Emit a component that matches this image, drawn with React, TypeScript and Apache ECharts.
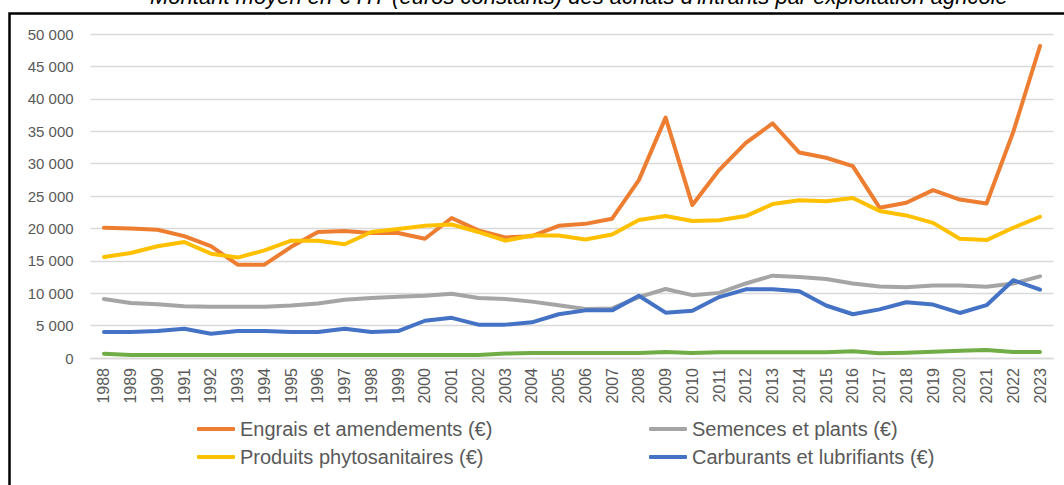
import React, { useEffect, useRef } from "react";
import * as echarts from "echarts";

const years = ["1988","1989","1990","1991","1992","1993","1994","1995","1996","1997","1998","1999","2000","2001","2002","2003","2004","2005","2006","2007","2008","2009","2010","2011","2012","2013","2014","2015","2016","2017","2018","2019","2020","2021","2022","2023"];

const engrais = [20100,20000,19800,18800,17250,14400,14400,17150,19450,19600,19300,19300,18400,21600,19700,18600,18800,20400,20700,21500,27450,37100,23600,29000,33200,36200,31700,30900,29600,23200,23950,25900,24450,23850,34900,48150];
const semences = [9100,8500,8300,8000,7900,7900,7900,8100,8400,9000,9250,9450,9600,9900,9250,9100,8700,8150,7550,7650,9400,10650,9700,10050,11500,12700,12500,12200,11500,11050,10900,11200,11200,11000,11500,12600];
const phyto = [15600,16200,17250,17900,16100,15500,16600,18100,18100,17550,19450,19900,20400,20600,19450,18100,18900,18900,18300,19050,21300,21900,21150,21250,21900,23750,24350,24200,24700,22700,22000,20850,18400,18200,20100,21800];
const carburants = [4000,4000,4150,4500,3750,4150,4150,4000,4000,4500,4000,4150,5750,6200,5150,5150,5500,6750,7350,7350,9600,7000,7300,9400,10600,10600,10300,8100,6750,7500,8600,8250,6950,8150,12000,10550];
const autres = [670,480,480,480,480,480,480,480,480,480,480,480,480,480,480,700,770,770,770,770,770,930,770,870,870,870,870,870,1030,720,820,980,1130,1240,930,930];

const seriesNames = [
  "Engrais et amendements (€)",
  "Semences et plants (€)",
  "Produits phytosanitaires (€)",
  "Carburants et lubrifiants (€)",
  "Autres intrants (€)",
];
const colors = ["#ED7D31", "#A5A5A5", "#FFC000", "#4472C4", "#70AD47"];
const titleText = "Montant moyen en € HT (euros constants) des achats d'intrants par exploitation agricole";

export default function App() {
  const ref = useRef<HTMLDivElement>(null);
  useEffect(() => {
    if (!ref.current) return;
    const chart = echarts.init(ref.current, null, { renderer: "svg" });
    const data = [engrais, semences, phyto, carburants, autres];
    const legendFont = { fontFamily: "Liberation Sans, Arial, sans-serif", fontSize: 20, color: "#595959", lineHeight: 24 };
    const legendPos = [
      { left: 197, top: 417 },
      { left: 649, top: 417 },
      { left: 197, top: 445 },
      { left: 649, top: 445 },
    ];
    chart.setOption({
      animation: false,
      backgroundColor: "#ffffff",
      color: colors,
      grid: { left: 90.6, right: 10.6, top: 34, bottom: 127 },
      legend: legendPos.map((p, i) => ({
        data: [seriesNames[i]],
        left: p.left,
        top: p.top,
        padding: 0,
        icon: "roundRect",
        itemWidth: 38,
        itemHeight: 4,
        textStyle: legendFont,
        selectedMode: false,
      })),
      xAxis: {
        type: "category",
        data: years,
        boundaryGap: true,
        axisLine: { lineStyle: { color: "#D9D9D9", width: 1.3 } },
        axisTick: { show: false },
        axisLabel: {
          rotate: 90,
          interval: 0,
          margin: 10,
          fontSize: 16,
          color: "#595959",
          fontFamily: "Liberation Sans, Arial, sans-serif",
        },
      },
      yAxis: {
        type: "value",
        min: 0,
        max: 50000,
        interval: 5000,
        axisLine: { show: false },
        axisTick: { show: false },
        splitLine: { lineStyle: { color: "#D9D9D9", width: 1.3 } },
        axisLabel: {
          margin: 17,
          fontSize: 15,
          color: "#595959",
          fontFamily: "Liberation Sans, Arial, sans-serif",
          formatter: (v: number) => String(v).replace(/\B(?=(\d{3})+(?!\d))/g, " "),
        },
      },
      graphic: [
        {
          type: "text",
          x: 150,
          y: 7,
          style: {
            text: titleText,
            fontSize: 22,
            fontStyle: "italic",
            fontFamily: "Liberation Sans, Arial, sans-serif",
            fill: "#000000",
            verticalAlign: "bottom",
          },
        },
        {
          type: "rect",
          shape: { x: 9.5, y: 13.5, width: 1100, height: 500 },
          style: { fill: null, stroke: "#000000", lineWidth: 2.5 },
        },
      ],
      series: data.map((d, i) => ({
        name: seriesNames[i],
        type: "line",
        data: d,
        symbol: "none",
        smooth: false,
        lineStyle: { width: 4, color: colors[i], cap: "round", join: "round" },
        itemStyle: { color: colors[i] },
      })),
    });
    return () => chart.dispose();
  }, []);
  return (
    <div
      ref={ref}
      style={{ position: "absolute", left: 0, top: 0, width: 1064, height: 485 }}
    />
  );
}
